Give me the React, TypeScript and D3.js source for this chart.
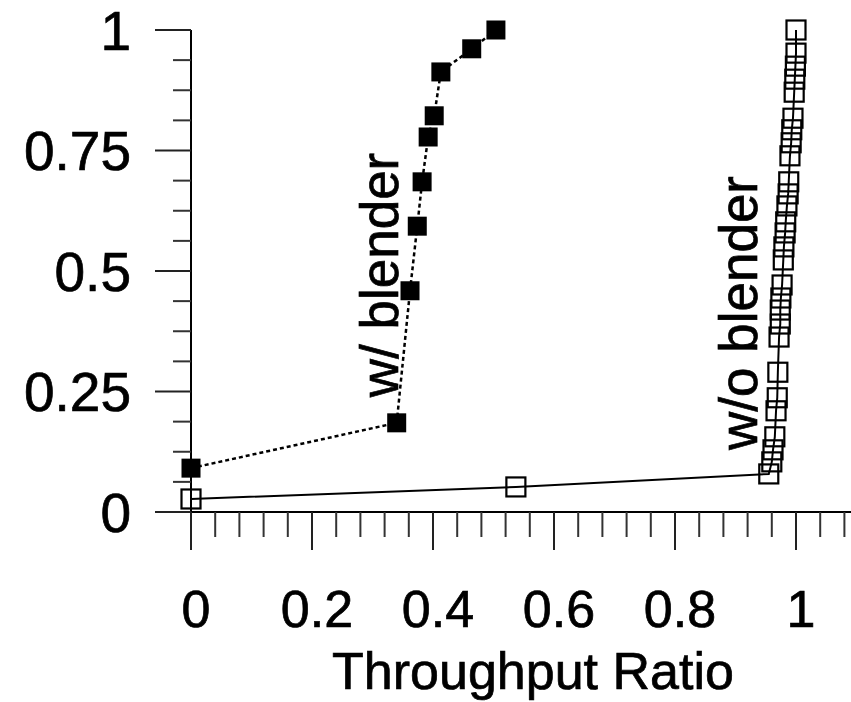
import React from "react";
import * as d3 from "d3";

// w/ blender (filled squares, dashed line)
const withX = [0, 0.34, 0.362, 0.374, 0.382, 0.392, 0.402, 0.413, 0.464, 0.504];
const withY = [0.091, 0.185, 0.459, 0.593, 0.685, 0.778, 0.822, 0.913, 0.961, 1.0];

// w/o blender (hollow squares, solid line)
const withoutX = [
  0, 0.537, 0.955, 0.96, 0.962, 0.965, 0.967, 0.969, 0.97,
  0.972, 0.974, 0.974, 0.975, 0.977, 0.979, 0.98, 0.982, 0.983, 0.985, 0.987, 0.988,
  0.99, 0.992, 0.993, 0.995, 0.997, 0.998, 0.999, 1.0, 1.0,
];
const withoutY = [
  0.027, 0.052, 0.079, 0.104, 0.129, 0.156, 0.21, 0.237, 0.29,
  0.363, 0.39, 0.419, 0.444, 0.471, 0.523, 0.55, 0.579, 0.602, 0.635, 0.66, 0.685,
  0.739, 0.766, 0.793, 0.817, 0.871, 0.898, 0.925, 0.952, 1.0,
];

const xTicks = [0, 0.2, 0.4, 0.6, 0.8, 1];
const xTickLabels = ["0", "0.2", "0.4", "0.6", "0.8", "1"];
const yTicks = [0, 0.25, 0.5, 0.75, 1];
const yTickLabels = ["0", "0.25", "0.5", "0.75", "1"];
const xTitle = "Throughput Ratio";
const withLabel = "w/ blender";
const withoutLabel = "w/o blender";

const W = 851;
const H = 702;
const FONT = "'Liberation Sans', Arial, Helvetica, sans-serif";

export default function App() {
  const x = d3.scaleLinear().domain([0, 1]).range([191, 796]);
  const y = d3.scaleLinear().domain([0, 1]).range([512, 30]);

  const xMinor = d3.range(0, 1.1, 0.04).filter((v) => Math.abs(v / 0.2 - Math.round(v / 0.2)) > 1e-6);
  const yMinor = d3.range(0, 1.0001, 0.0625).filter((v) => Math.abs(v / 0.25 - Math.round(v / 0.25)) > 1e-6);

  const withData = withX.map((v, i) => [v, withY[i]] as [number, number]);
  const withoutData = withoutX.map((v, i) => [v, withoutY[i]] as [number, number]);
  const line = d3.line<[number, number]>().x((d) => x(d[0])).y((d) => y(d[1]));

  const sq = 19;
  const txt = { fill: "#000", stroke: "#000", strokeWidth: 0.7 };
  return (
    <svg
      width={W}
      height={H}
      style={{ position: "absolute", left: 0, top: 0, background: "#fff" }}
      fontFamily={FONT}
    >
      {/* axes */}
      <line x1={155} x2={W} y1={y(0)} y2={y(0)} stroke="#000" strokeWidth={2} />
      <line x1={x(0)} x2={x(0)} y1={y(1)} y2={y(0) + 38} stroke="#000" strokeWidth={2} />
      {xTicks.map((t) => (
        <line key={"xM" + t} x1={x(t)} x2={x(t)} y1={y(0)} y2={y(0) + 38} stroke="#222" strokeWidth={2} />
      ))}
      {xMinor.map((t) => (
        <line key={"xm" + t} x1={x(t)} x2={x(t)} y1={y(0)} y2={y(0) + 25} stroke="#333" strokeWidth={2} />
      ))}
      {yTicks.map((t) => (
        <line key={"yM" + t} x1={155} x2={x(0)} y1={y(t)} y2={y(t)} stroke="#222" strokeWidth={2} />
      ))}
      {yMinor.map((t) => (
        <line key={"ym" + t} x1={173} x2={x(0)} y1={y(t)} y2={y(t)} stroke="#333" strokeWidth={2} />
      ))}
      {xTicks.map((t, i) => (
        <text key={"xl" + t} x={x(t) + 5} y={627} fontSize={52} textAnchor="middle" {...txt}>
          {xTickLabels[i]}
        </text>
      ))}
      {yTicks.map((t, i) => (
        <text key={"yl" + t} x={131} y={y(t)} dy="0.36em" fontSize={55} textAnchor="end" {...txt}>
          {yTickLabels[i]}
        </text>
      ))}
      <text x={533} y={689} fontSize={52} textAnchor="middle" {...txt}>
        {xTitle}
      </text>

      {/* w/o blender */}
      <path d={line(withoutData) || ""} fill="none" stroke="#000" strokeWidth={2} />
      {withoutData.map((d, i) => (
        <rect
          key={"wo" + i}
          x={x(d[0]) - sq / 2}
          y={y(d[1]) - sq / 2}
          width={sq}
          height={sq}
          fill="none"
          stroke="#000"
          strokeWidth={2.2}
        />
      ))}

      {/* w/ blender */}
      <path d={line(withData) || ""} fill="none" stroke="#000" strokeWidth={2.5} strokeDasharray="4,3" />
      {withData.map((d, i) => (
        <rect
          key={"w" + i}
          x={x(d[0]) - sq / 2}
          y={y(d[1]) - sq / 2}
          width={sq}
          height={sq}
          fill="#000"
        />
      ))}

      <text transform={`translate(398,275) rotate(-90)`} fontSize={53} textAnchor="middle" {...txt}>
        {withLabel}
      </text>
      <text transform={`translate(757,313) rotate(-90)`} fontSize={53} textAnchor="middle" {...txt}>
        {withoutLabel}
      </text>
    </svg>
  );
}
